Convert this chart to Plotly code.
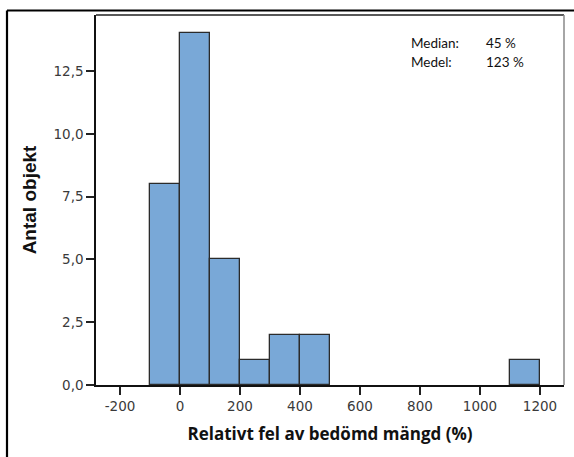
import plotly.graph_objects as go

bin_starts = [-100, 0, 100, 200, 300, 400, 1100]
counts = [8, 14, 5, 1, 2, 2, 1]
bin_width = 100
x_ticks = [-200, 0, 200, 400, 600, 800, 1000, 1200]
y_ticks = [0, 2.5, 5, 7.5, 10, 12.5]
y_tick_labels = ["0,0", "2,5", "5,0", "7,5", "10,0", "12,5"]
stat_names = ["Median:", "Medel:"]
stat_values = ["45 %", "123 %"]

W, H = 574, 457
L, R, T, B = 96, 10, 15, 72

fig = go.Figure()
fig.add_trace(go.Bar(
    x=[s + bin_width / 2 for s in bin_starts],
    y=counts,
    width=[bin_width] * len(bin_starts),
    marker=dict(color="#79A8D7", line=dict(color="#2b2b2b", width=1.3)),
    hoverinfo="x+y",
))

fig.update_layout(
    width=W, height=H,
    margin=dict(l=L, r=R, t=T, b=B, pad=0, autoexpand=False),
    paper_bgcolor="white", plot_bgcolor="white",
    showlegend=False,
    bargap=0,
    xaxis=dict(
        range=[-280, 1280], tickvals=x_ticks, ticktext=[str(v) for v in x_ticks],
        ticks="outside", ticklen=8, tickwidth=1.5, tickcolor="#222",
        showgrid=False, zeroline=False, automargin=False,
        showline=True, linecolor="#111", linewidth=1.5, mirror=False,
        tickfont=dict(family="DejaVu Sans", size=13.5, color="#3a3a3a"),
        title=dict(text="<b>Relativt fel av bedömd mängd (%)</b>",
                   font=dict(family="Open Sans", size=17, color="#111"), standoff=15),
    ),
    yaxis=dict(
        range=[0, 14.73], tickvals=y_ticks, ticktext=y_tick_labels,
        ticks="outside", ticklen=8, tickwidth=1.5, tickcolor="#222",
        showgrid=False, zeroline=False, automargin=False,
        showline=True, linecolor="#111", linewidth=1.5,
        tickfont=dict(family="DejaVu Sans", size=13.5, color="#3a3a3a"),
        title=dict(text="<b>Antal objekt</b>",
                   font=dict(family="Liberation Sans", size=19, color="#111"), standoff=12),
    ),
)

# plot area top and right borders
fig.add_shape(type="line", xref="paper", yref="paper", x0=0, x1=1, y0=1, y1=1,
              line=dict(color="#222", width=1.5))
fig.add_shape(type="line", xref="paper", yref="paper", x0=1, x1=1, y0=0, y1=1,
              line=dict(color="#888", width=1.5))

pw = W - L - R
ph = H - T - B
def px_to_paper_x(px):
    return (px - L) / pw
def px_to_paper_y(py):
    return (H - B - py) / ph

# outer frame (top and left)
fig.add_shape(type="line", xref="paper", yref="paper",
              x0=px_to_paper_x(7), x1=px_to_paper_x(W + 5),
              y0=px_to_paper_y(10.5), y1=px_to_paper_y(10.5),
              line=dict(color="#000", width=2.2))
fig.add_shape(type="line", xref="paper", yref="paper",
              x0=px_to_paper_x(7), x1=px_to_paper_x(7),
              y0=px_to_paper_y(10.5), y1=px_to_paper_y(H + 5),
              line=dict(color="#000", width=2.2))

for i, (n, v) in enumerate(zip(stat_names, stat_values)):
    yy = px_to_paper_y(43 + i * 19)
    fig.add_annotation(xref="paper", yref="paper", x=px_to_paper_x(409), y=yy,
                       text=n, showarrow=False, xanchor="left", yanchor="middle",
                       font=dict(family="Lato", size=13.5, color="#111"))
    fig.add_annotation(xref="paper", yref="paper", x=px_to_paper_x(484), y=yy,
                       text=v, showarrow=False, xanchor="left", yanchor="middle",
                       font=dict(family="Lato", size=13.5, color="#111"))

fig.write_html("out.html",
               config={"displayModeBar": False},
               post_script="document.body.style.margin='0';document.body.style.overflow='hidden';")
